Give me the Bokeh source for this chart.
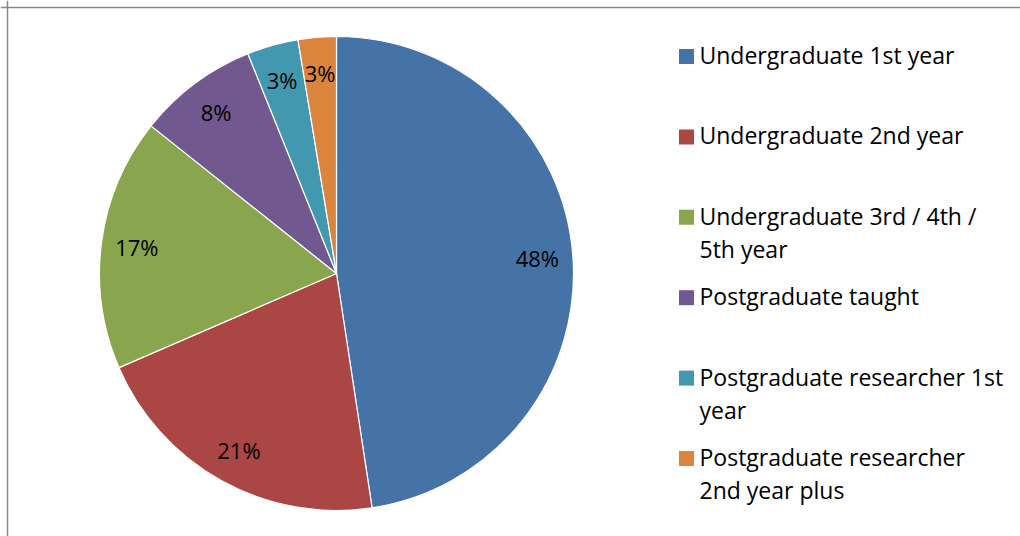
import math
from bokeh.plotting import figure
from bokeh.models import Range1d, Span
from bokeh.core.properties import value
from bokeh.embed import file_html
from bokeh.resources import INLINE

categories = [
    "Undergraduate 1st year",
    "Undergraduate 2nd year",
    "Undergraduate 3rd / 4th /\n5th year",
    "Postgraduate taught",
    "Postgraduate researcher 1st\nyear",
    "Postgraduate researcher\n2nd year plus",
]
values = [47.6, 20.9, 17.2, 8.2, 3.5, 2.6]
pct_labels = ["48%", "21%", "17%", "8%", "3%", "3%"]
colors = ["#4572A7", "#AA4643", "#89A54E", "#71588F", "#4198AF", "#DB843D"]

W, H = 1020, 536
FONT = "Open Sans"

p = figure(width=W, height=H, output_backend="svg", toolbar_location=None,
           x_range=Range1d(0, W), y_range=Range1d(0, H), min_border=0)
p.axis.visible = False
p.grid.visible = False
p.outline_line_color = None

# frame
p.add_layout(Span(location=7, dimension="height", line_color="#898989", line_width=1.5))
p.add_layout(Span(location=H - 7, dimension="width", line_color="#898989", line_width=1.5))

cx, cy, r = 336, H - 273, 237
total = sum(values)
cum = 0.0
starts, ends, lx, ly = [], [], [], []
for v in values:
    a0 = math.pi / 2 - 2 * math.pi * cum / total
    cum += v
    a1 = math.pi / 2 - 2 * math.pi * cum / total
    starts.append(a0)
    ends.append(a1)
    mid = (a0 + a1) / 2
    lx.append(cx + 0.85 * r * math.cos(mid))
    ly.append(cy + 0.85 * r * math.sin(mid))

p.wedge(x=cx, y=cy, radius=r, start_angle=starts, end_angle=ends,
        direction="clock", fill_color=colors, line_color="white", line_width=1.2)

p.text(x=lx, y=ly, text=pct_labels, text_align="center", text_baseline="middle",
       text_font=value(FONT), text_font_size="22px", text_color="#000000")

# legend
leg_x, leg_y0, leg_dy, line_h = 686, H - 56, 80.4, 33
sq_x, sq_y, tx, ty, tt = [], [], [], [], []
for i, (c, lab) in enumerate(zip(colors, categories)):
    y = leg_y0 - i * leg_dy
    sq_x.append(leg_x)
    sq_y.append(y)
    for j, line in enumerate(lab.split("\n")):
        tx.append(leg_x + 13)
        ty.append(y - j * line_h + 1.5)
        tt.append(line)

p.rect(x=sq_x, y=sq_y, width=15, height=15, fill_color=colors, line_color=None)
p.text(x=tx, y=ty, text=tt, text_align="left", text_baseline="middle",
       text_font=value(FONT), text_font_size="23px", text_color="#000000")

open("out.html", "w").write(file_html(p, INLINE))
